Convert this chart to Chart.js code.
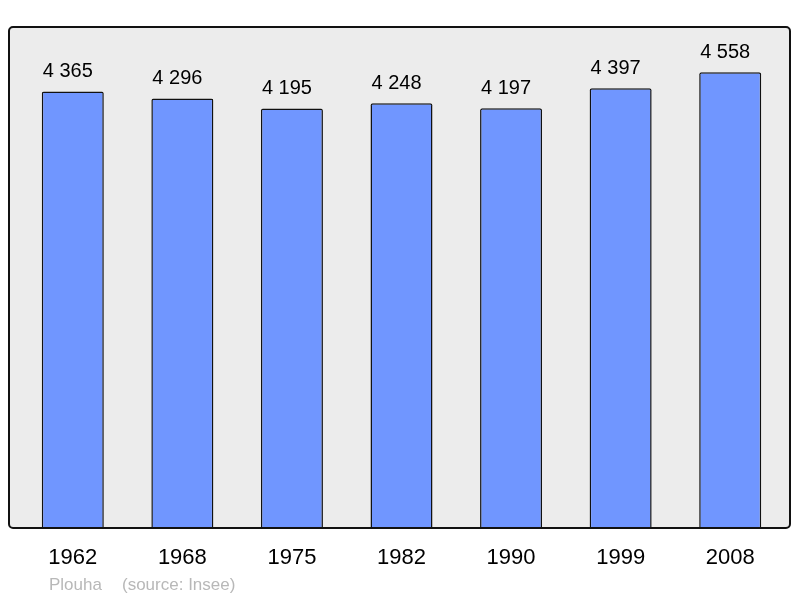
<!DOCTYPE html>
<html>
<head>
<meta charset="utf-8">
<script src="https://cdn.jsdelivr.net/npm/chart.js@4/dist/chart.umd.min.js"></script>
<style>
    html, body { margin: 0; padding: 0; background: #fff; }
    #wrap { width: 800px; height: 598px; }
</style>
</head>
<body>
<div id="wrap"><canvas id="popChart" width="800" height="598"></canvas></div>
<script>
// 데이터
const years = ["1962", "1968", "1975", "1982", "1990", "1999", "2008"];
const population = [4365, 4296, 4195, 4248, 4197, 4397, 4558];
const townName = "Plouha";
const sourceText = "(source: Insee)";

const FONT = "'Liberation Sans', Arial, sans-serif";

// 숫자 포맷 (4 365)
function fmt(v) {
    return String(v).replace(/\B(?=(\d{3})+(?!\d))/g, " ");
}

// 회색 배경 박스
const framePlugin = {
    id: "frame",
    beforeDraw(chart) {
        const { ctx, chartArea } = chart;
        const x = chartArea.left - 9, y = chartArea.top - 1;
        const w = chartArea.right + 5 - x, h = chartArea.bottom - y;
        ctx.save();
        ctx.beginPath();
        ctx.roundRect(x, y, w, h, 4);
        ctx.fillStyle = "#ececec";
        ctx.fill();
        ctx.restore();
    },
    afterDatasetsDraw(chart) {
        const { ctx, chartArea } = chart;
        const x = chartArea.left - 9, y = chartArea.top - 1;
        const w = chartArea.right + 5 - x, h = chartArea.bottom - y;
        ctx.save();
        ctx.beginPath();
        ctx.roundRect(x, y, w, h, 4);
        ctx.lineWidth = 2;
        ctx.strokeStyle = "#111";
        ctx.stroke();
        ctx.restore();
    }
};

// 막대 위 값 표시 + 하단 출처
const labelPlugin = {
    id: "labels",
    afterDraw(chart) {
        const { ctx } = chart;
        const meta = chart.getDatasetMeta(0);
        ctx.save();
        ctx.font = "20px " + FONT;
        ctx.fillStyle = "#000";
        ctx.textAlign = "center";
        ctx.textBaseline = "middle";
        meta.data.forEach((bar, i) => {
            ctx.fillText(fmt(population[i]), bar.x - 5, bar.y - 20);
        });
        ctx.font = "17px " + FONT;
        ctx.fillStyle = "#b8b8b8";
        ctx.textAlign = "left";
        ctx.fillText(townName, 49, 585);
        ctx.fillText(sourceText, 122, 585);
        ctx.restore();
    }
};

new Chart(document.getElementById("popChart"), {
    type: "bar",
    data: {
        labels: years,
        datasets: [{
            data: population,
            backgroundColor: "#7096ff",
            borderColor: "#111",
            borderWidth: 1.5,
            borderRadius: 2,
            borderSkipped: "bottom",
            categoryPercentage: 1,
            barPercentage: 0.566
        }]
    },
    options: {
        responsive: false,
        animation: false,
        devicePixelRatio: 1,
        layout: { padding: { left: 18, right: 15, top: 28, bottom: 0 } },
        plugins: {
            legend: { display: false },
            tooltip: { enabled: false }
        },
        scales: {
            x: {
                grid: { display: false, drawTicks: false },
                border: { display: false },
                ticks: {
                    color: "#000",
                    font: { family: FONT, size: 22 },
                    padding: 17
                },
                afterFit: scale => { scale.height = 70; }
            },
            y: {
                display: false,
                min: 0,
                max: 5000
            }
        }
    },
    plugins: [framePlugin, labelPlugin]
});
</script>
</body>
</html>
